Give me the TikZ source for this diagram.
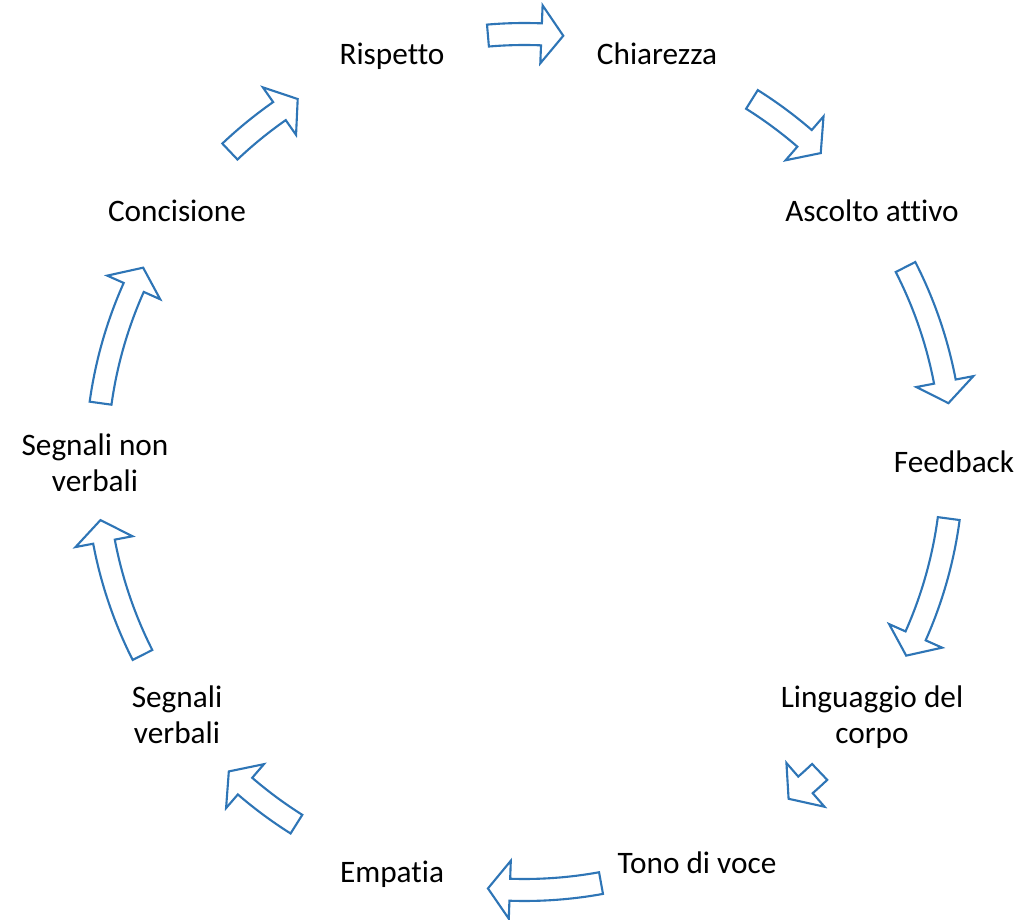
\documentclass[tikz,border=0pt]{standalone}
\usepackage{fontspec}
\setmainfont{Carlito}[Ligatures=CommonOff]
\definecolor{cycleblue}{RGB}{46,117,182}

\begin{document}
\begin{tikzpicture}[x=0.02cm,y=0.02cm,
        step label/.style={anchor=base,inner sep=0pt,align=center,font=\fontsize{17.8}{20.5}\selectfont},
        cycle arrow/.style={draw=cycleblue,line width=1.2pt,fill=white,line join=miter}]
    \useasboundingbox (0,0) rectangle (1023,919);
    \coordinate (hub) at (524.5,457);
    \node[step label] (rispetto) at (392,854) {Rispetto};
    \node[step label] (chiarezza) at (657,854) {Chiarezza};
    \node[step label] (ascolto) at (872,697) {Ascolto attivo};
    \node[step label] (feedback) at (954,446) {Feedback};
    \node[step label] (linguaggio) at (872,175) {Linguaggio del\\corpo};
    \node[step label] (tono) at (697,46) {Tono di voce};
    \node[step label] (empatia) at (392,37) {Empatia};
    \node[step label] (verbali) at (177,175) {Segnali\\verbali};
    \node[step label] (nonverbali) at (95,427) {Segnali non\\verbali};
    \node[step label] (concisione) at (177,697) {Concisione};
    \foreach \s/\e in {94.9/84.8,57.9/46.2,27.1/7.9,-7.6/-26.9,-46.4/-51.9,
            -79.7/-94.9,-122.2/-133.7,-153.2/-172.2,172.1/153.0,133.5/122.0}
        \draw[cycle arrow] ([shift={(\s:439)}]hub) arc[start angle=\s,end angle=\e+2.93,radius=439]
            -- ([shift={(\e+2.93:457)}]hub) -- ([shift={(\e:428)}]hub)
            -- ([shift={(\e+2.93:399)}]hub) -- ([shift={(\e+2.93:417)}]hub)
            arc[start angle=\e+2.93,end angle=\s,radius=417] -- cycle;
\end{tikzpicture}
\end{document}
